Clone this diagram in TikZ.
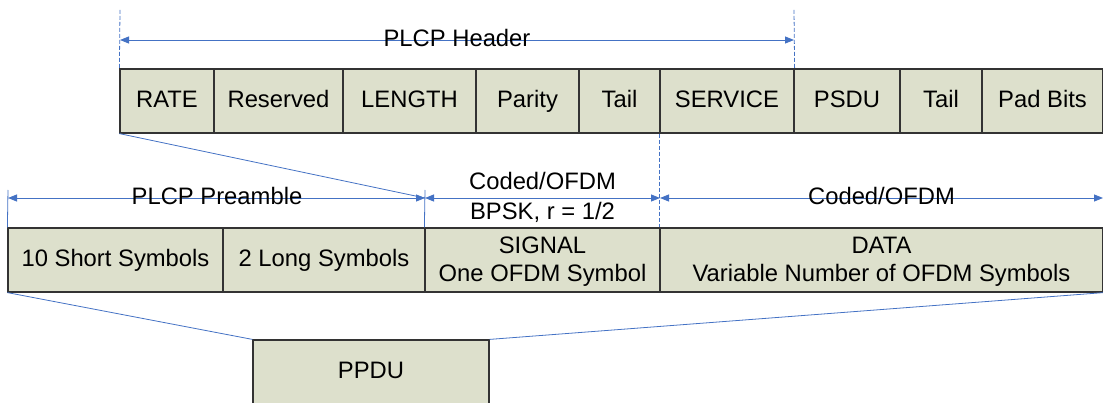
\documentclass[tikz,border=0pt]{standalone}
\usepackage{fontspec}
\setmainfont{Liberation Sans}
\usetikzlibrary{arrows.meta}
\definecolor{boxfill}{RGB}{221,224,204}
\definecolor{lineblue}{RGB}{68,114,196}
\begin{document}
\begin{tikzpicture}[x=1pt,y=-1pt,
 field/.style={draw=black!80, line width=1.2pt, fill=boxfill, minimum height=64pt, inner sep=0pt,
   font=\fontsize{23.8}{28}\selectfont, align=center},
 one/.style={text height=18pt, text depth=5pt},
 two/.style={text depth=1pt},
 dim/.style={lineblue, line width=0.9pt, {Triangle[length=9pt,width=7pt]}-{Triangle[length=9pt,width=7pt]}},
 ext/.style={lineblue, line width=0.8pt},
 extd/.style={ext, dash pattern=on 4pt off 2pt},
 lbl/.style={font=\fontsize{23.8}{28}\selectfont, inner sep=0pt, text height=18pt, text depth=5pt}]
\useasboundingbox (0,0) rectangle (1103,403);

% top row
\node[field, one, minimum width=94pt]  (rate)  at (167,101)   {RATE};
\node[field, one, minimum width=129pt] (res)   at (278.5,101) {Reserved};
\node[field, one, minimum width=133pt] (len)   at (409.5,101) {LENGTH};
\node[field, one, minimum width=103pt] (par)   at (527.5,101) {Parity};
\node[field, one, minimum width=81pt]  (tail1) at (619.5,101) {Tail};
\node[field, one, minimum width=134pt] (serv)  at (727,101)   {SERVICE};
\node[field, one, minimum width=106pt] (psdu)  at (847,101)   {PSDU};
\node[field, one, minimum width=82pt]  (tail2) at (941,101)   {Tail};
\node[field, one, minimum width=121pt] (pad)   at (1042.5,101){Pad Bits};

% second row
\node[field, one, minimum width=215pt] (short) at (115.5,260) {10 Short Symbols};
\node[field, one, minimum width=202pt] (long)  at (324,260)   {2 Long Symbols};
\node[field, two, minimum width=235pt] (sig)   at (542.5,260) {SIGNAL\\One OFDM Symbol};
\node[field, two, minimum width=443pt] (data)  at (881.5,260) {DATA\\Variable Number of OFDM Symbols};

% PPDU
\node[field, one, minimum width=236pt] (ppdu)  at (371,372)   {PPDU};

% header dimension
\coordinate (hL) at (120,10);
\coordinate (hR) at (794,10);
\coordinate (hLa) at (120,40);
\coordinate (hRa) at (794,40);
\draw[extd] (hL) -- (rate.north west);
\draw[extd] (hR) -- (serv.north east);
\draw[dim] (hLa) -- (hRa);
\node[lbl] (hlbl) at (457,40) {PLCP Header};

% second row dimensions
\coordinate (p0) at (8,190);
\coordinate (p1) at (425,190);
\coordinate (a0) at (8,198);
\coordinate (a1) at (425,198);
\coordinate (a2) at (660,198);
\coordinate (a3) at (1103,198);
\draw[ext] (p0) -- (short.north west);
\draw[ext] (p1) -- (sig.north west);
\draw[extd] (serv.south west) -- (data.north west);
\draw[dim] (a0) -- (a1);
\draw[dim] (a1) -- (a2);
\draw[dim] (a2) -- (a3);
\node[lbl] (pre)  at (217,198)   {PLCP Preamble};
\node[lbl] (cod1) at (542.5,183) {Coded/OFDM};
\node[lbl] (bpsk) at (542.5,213) {BPSK, r = 1/2};
\node[lbl] (cod2) at (881.5,198) {Coded/OFDM};

% diagonal from header to signal
\draw[ext] (rate.south west) -- (a1);

% PPDU connectors
\draw[ext] (short.south west) -- (ppdu.north west);
\draw[ext] (data.south east) -- (ppdu.north east);
\end{tikzpicture}
\end{document}
